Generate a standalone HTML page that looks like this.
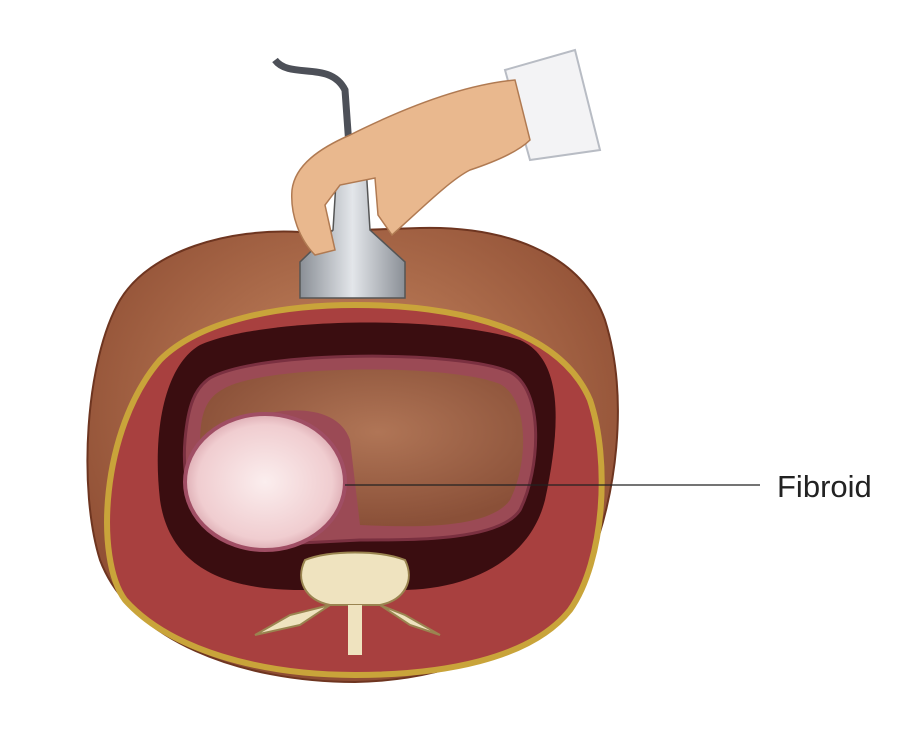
<!DOCTYPE html>
<html><head><meta charset="utf-8"><style>
html,body{margin:0;padding:0;background:#fff;width:908px;height:737px;overflow:hidden}
svg{display:block}
</style></head><body>
<svg width="908" height="737" viewBox="0 0 908 737" xmlns="http://www.w3.org/2000/svg">
<defs>
<radialGradient id="skin" cx="0.5" cy="0.4" r="0.6">
<stop offset="0" stop-color="#c98a63"/><stop offset="1" stop-color="#8e4d33"/></radialGradient>
<radialGradient id="ut" cx="0.55" cy="0.4" r="0.6">
<stop offset="0" stop-color="#b07556"/><stop offset="1" stop-color="#8a5038"/></radialGradient>
<radialGradient id="fib" cx="0.5" cy="0.5" r="0.6">
<stop offset="0" stop-color="#fbeeee"/><stop offset="0.7" stop-color="#f0cdd0"/><stop offset="1" stop-color="#c98a95"/></radialGradient>
<linearGradient id="probe" x1="0" x2="1"><stop offset="0" stop-color="#8a8f96"/><stop offset="0.5" stop-color="#e3e6ea"/><stop offset="1" stop-color="#8a8f96"/></linearGradient>
</defs>
<path d="M120 300 C150 250 230 228 300 232 L420 228 C500 226 580 250 605 320 C630 400 615 500 590 560 C560 630 470 680 355 682 C240 682 130 640 100 560 C78 490 85 360 120 300Z" fill="url(#skin)" stroke="#6e3520" stroke-width="2"/>
<path d="M160 360 C200 320 280 305 355 305 C460 305 560 330 590 400 C610 460 605 560 570 610 C530 660 440 675 355 675 C260 675 170 650 125 600 C95 560 100 430 160 360Z" fill="#a8403f" stroke="#c9a43a" stroke-width="6"/>
<path d="M200 345 C260 318 440 314 520 340 C565 360 560 430 545 500 C530 560 470 590 400 590 L300 590 C230 590 170 570 160 500 C152 430 165 365 200 345Z" fill="#3a0d10"/>
<path d="M210 378 C260 350 460 350 510 372 C545 390 540 470 520 510 C500 540 420 540 360 540 L260 545 C205 545 180 500 185 440 C188 405 195 388 210 378Z" fill="#9b4a55" stroke="#7a3040" stroke-width="3"/>
<path d="M225 388 C270 364 450 364 500 384 C530 400 528 465 510 500 C490 528 420 528 360 525 L350 440 C340 410 300 405 260 415 C235 422 210 430 200 445 C200 415 205 398 225 388Z" fill="url(#ut)"/>
<ellipse cx="265" cy="482" rx="80" ry="68" fill="url(#fib)" stroke="#a04e64" stroke-width="4"/>
<path d="M305 560 C330 550 380 550 405 560 C415 580 405 600 380 605 L330 605 C305 600 295 580 305 560Z" fill="#efe3bf" stroke="#9a8450" stroke-width="2"/>
<path d="M330 605 L300 625 L255 635 L290 615 Z M380 605 L410 625 L440 635 L405 615 Z" fill="#efe3bf" stroke="#9a8450" stroke-width="2"/>
<rect x="348" y="605" width="14" height="50" fill="#efe3bf"/>
<path d="M505 70 L575 50 L600 150 L530 160 Z" fill="#f3f3f5" stroke="#b8bcc4" stroke-width="2"/>
<path d="M275 60 C290 80 330 60 345 90 L350 160" fill="none" stroke="#4d5058" stroke-width="7"/>
<path d="M338 150 L365 150 L370 230 L405 262 L405 298 L300 298 L300 262 L333 230Z" fill="url(#probe)" stroke="#555" stroke-width="1.5"/>
<path d="M515 80 C460 85 400 110 350 135 C320 148 295 165 292 190 C290 215 300 240 315 255 L335 250 L325 205 L340 185 L375 178 L378 215 L392 235 C420 210 450 180 470 170 C500 160 520 150 530 140 Z" fill="#e9b88e" stroke="#b07a52" stroke-width="1.5"/>
<line x1="345" y1="485" x2="760" y2="485" stroke="#222" stroke-width="1.2"/>
<text x="777" y="497" font-family="Liberation Sans, sans-serif" font-size="31" fill="#222">Fibroid</text>
</svg>
</body></html>
